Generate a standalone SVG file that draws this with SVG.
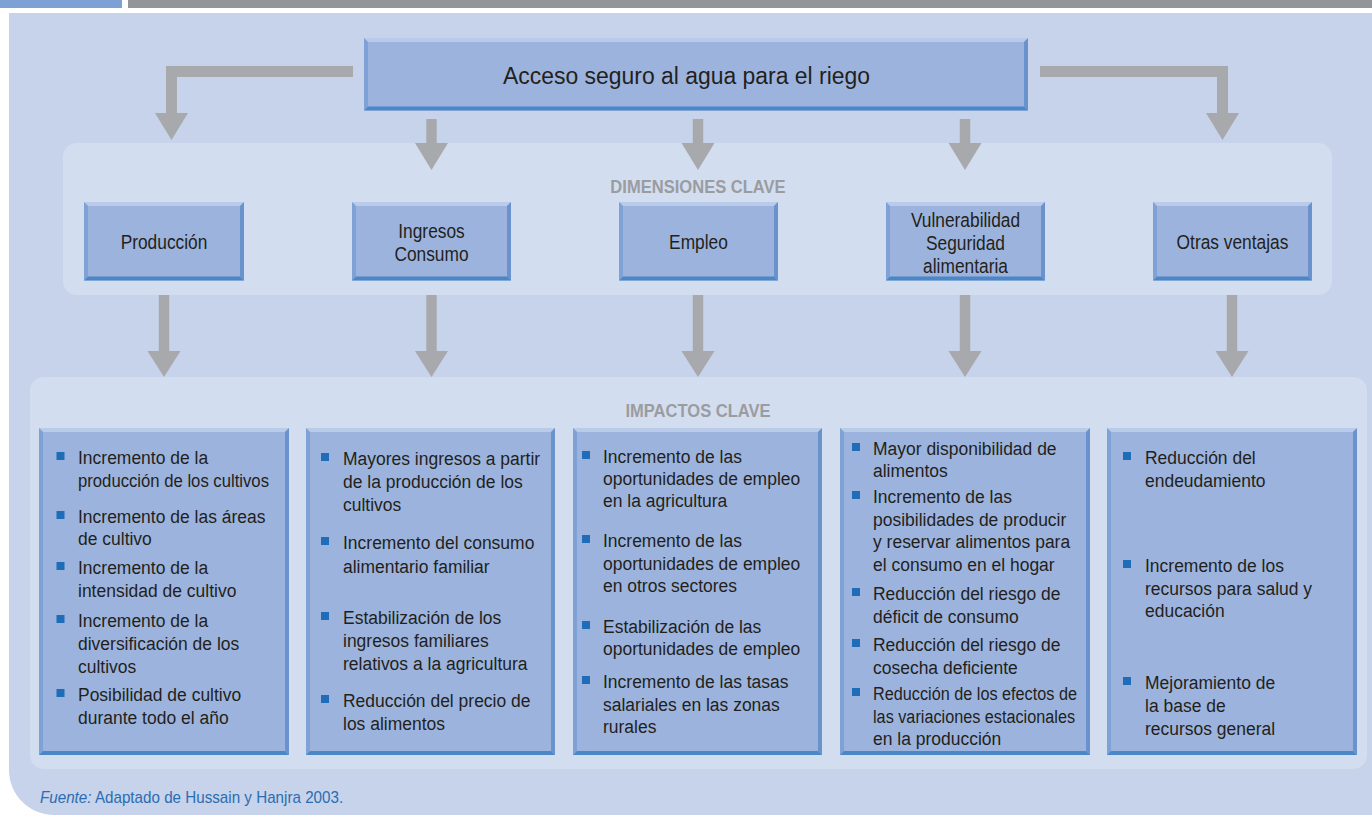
<svg xmlns="http://www.w3.org/2000/svg" width="1372" height="815" viewBox="0 0 1372 815">
<style>
.face{fill:#9cb4dd}
.bt{fill:#b9cbe9}
.bl{fill:#7ea1d6}
.br{fill:#6a93cd}
.bb{fill:#4b86c6}
.arw{fill:#a7a9ac}
.bul{fill:#1f6db6}
.t{font-family:"Liberation Sans",Arial,sans-serif;fill:#231f20}
.title{font-size:24.5px;text-anchor:middle}
.dim{font-size:19.5px;text-anchor:middle}
.imp{font-size:19px}
.lbl{font-family:"Liberation Sans",Arial,sans-serif;font-size:18px;font-weight:bold;fill:#9a9c9f;text-anchor:middle}
.src{font-family:"Liberation Sans",Arial,sans-serif;font-size:16px;fill:#2b6cb2}
</style>
<rect width="1372" height="815" fill="#ffffff"/>
<rect x="0" y="0" width="122" height="8" fill="#7da1d4"/>
<rect x="128" y="0" width="1244" height="8" fill="#939598"/>
<path d="M9,13 H1372 V815 H54 A45,45 0 0 1 9,770 Z" fill="#c6d3ea"/>
<rect id="dims-panel" x="63" y="143" width="1269" height="152" rx="14" fill="#d3ddf0"/>
<rect id="impacts-panel" x="30" y="377" width="1337" height="392" rx="14" fill="#d3ddf0"/>
<text class="lbl" transform="translate(698,193) scale(0.92,1)">DIMENSIONES CLAVE</text>
<text class="lbl" transform="translate(698,417) scale(0.92,1)">IMPACTOS CLAVE</text>

<g id="connectors">
<polygon class="arw" points="353,66 166,66 166,113 155,113 171.5,140 188,113 177,113 177,77 353,77"/>
<polygon class="arw" points="1040,66 1228,66 1228,113 1239,113 1222.5,140 1206,113 1217,113 1217,77 1040,77"/>
<polygon class="arw" points="426.3,119 436.7,119 436.7,143 448,143 431.5,170 415,143 426.3,143"/>
<polygon class="arw" points="692.8,119 703.2,119 703.2,143 714.5,143 698,170 681.5,143 692.8,143"/>
<polygon class="arw" points="959.8,119 970.2,119 970.2,143 981.5,143 965,170 948.5,143 959.8,143"/>
<polygon class="arw" points="158.8,295 169.2,295 169.2,351 180.5,351 164,377 147.5,351 158.8,351"/>
<polygon class="arw" points="426.3,295 436.7,295 436.7,351 448,351 431.5,377 415,351 426.3,351"/>
<polygon class="arw" points="692.8,295 703.2,295 703.2,351 714.5,351 698,377 681.5,351 692.8,351"/>
<polygon class="arw" points="959.8,295 970.2,295 970.2,351 981.5,351 965,377 948.5,351 959.8,351"/>
<polygon class="arw" points="1226.8,295 1237.2,295 1237.2,351 1248.5,351 1232,377 1215.5,351 1226.8,351"/>
</g>

<g id="title">
<rect class="face" x="364" y="38" width="664" height="72.5"/>
<polygon class="bt" points="364,38 1028,38 1024,42 368,42"/>
<polygon class="bl" points="364,38 368,42 368,106.5 364,110.5"/>
<polygon class="br" points="1028,38 1028,110.5 1024,106.5 1024,42"/>
<polygon class="bb" points="364,110.5 368,106.5 1024,106.5 1028,110.5"/>
<text class="t title" transform="translate(686.5,84) scale(0.936,1)">Acceso seguro al agua para el riego</text>
</g>

<g id="dim-produccion">
<rect class="face" x="84" y="202" width="160" height="78.5"/>
<polygon class="bt" points="84,202 244,202 240,206 88,206"/>
<polygon class="bl" points="84,202 88,206 88,276.5 84,280.5"/>
<polygon class="br" points="244,202 244,280.5 240,276.5 240,206"/>
<polygon class="bb" points="84,280.5 88,276.5 240,276.5 244,280.5"/>
<g transform="translate(164,0) scale(0.89,1)"><text class="t dim" x="0" y="249">Producción</text></g>
</g>
<g id="dim-ingresos">
<rect class="face" x="352" y="202" width="159" height="78.5"/>
<polygon class="bt" points="352,202 511,202 507,206 356,206"/>
<polygon class="bl" points="352,202 356,206 356,276.5 352,280.5"/>
<polygon class="br" points="511,202 511,280.5 507,276.5 507,206"/>
<polygon class="bb" points="352,280.5 356,276.5 507,276.5 511,280.5"/>
<g transform="translate(431.5,0) scale(0.89,1)"><text class="t dim" x="0" y="238">Ingresos</text><text class="t dim" x="0" y="261">Consumo</text></g>
</g>
<g id="dim-empleo">
<rect class="face" x="619" y="202" width="159" height="78.5"/>
<polygon class="bt" points="619,202 778,202 774,206 623,206"/>
<polygon class="bl" points="619,202 623,206 623,276.5 619,280.5"/>
<polygon class="br" points="778,202 778,280.5 774,276.5 774,206"/>
<polygon class="bb" points="619,280.5 623,276.5 774,276.5 778,280.5"/>
<g transform="translate(698.5,0) scale(0.89,1)"><text class="t dim" x="0" y="249">Empleo</text></g>
</g>
<g id="dim-vulnerabilidad">
<rect class="face" x="886" y="202" width="159" height="78.5"/>
<polygon class="bt" points="886,202 1045,202 1041,206 890,206"/>
<polygon class="bl" points="886,202 890,206 890,276.5 886,280.5"/>
<polygon class="br" points="1045,202 1045,280.5 1041,276.5 1041,206"/>
<polygon class="bb" points="886,280.5 890,276.5 1041,276.5 1045,280.5"/>
<g transform="translate(965.5,0) scale(0.89,1)"><text class="t dim" x="0" y="227">Vulnerabilidad</text><text class="t dim" x="0" y="250">Seguridad</text><text class="t dim" x="0" y="273">alimentaria</text></g>
</g>
<g id="dim-otras">
<rect class="face" x="1153" y="202" width="159" height="78.5"/>
<polygon class="bt" points="1153,202 1312,202 1308,206 1157,206"/>
<polygon class="bl" points="1153,202 1157,206 1157,276.5 1153,280.5"/>
<polygon class="br" points="1312,202 1312,280.5 1308,276.5 1308,206"/>
<polygon class="bb" points="1153,280.5 1157,276.5 1308,276.5 1312,280.5"/>
<g transform="translate(1232.5,0) scale(0.89,1)"><text class="t dim" x="0" y="249">Otras ventajas</text></g>
</g>

<g id="imp-produccion">
<rect class="face" x="39" y="428" width="250" height="327"/>
<polygon class="bt" points="39,428 289,428 285,432 43,432"/>
<polygon class="bl" points="39,428 43,432 43,751 39,755"/>
<polygon class="br" points="289,428 289,755 285,751 285,432"/>
<polygon class="bb" points="39,755 43,751 285,751 289,755"/>
<rect class="bul" x="56.5" y="452" width="8" height="8"/>
<rect class="bul" x="56.5" y="511" width="8" height="8"/>
<rect class="bul" x="56.5" y="562" width="8" height="8"/>
<rect class="bul" x="56.5" y="615" width="8" height="8"/>
<rect class="bul" x="56.5" y="689" width="8" height="8"/>
<g transform="translate(78,0) scale(0.92,1)">
<text class="t imp" x="0" y="464">Incremento de la</text>
<text class="t imp" x="0" y="487" textLength="207.6" lengthAdjust="spacingAndGlyphs">producción de los cultivos</text>
<text class="t imp" x="0" y="523">Incremento de las áreas</text>
<text class="t imp" x="0" y="545">de cultivo</text>
<text class="t imp" x="0" y="574">Incremento de la</text>
<text class="t imp" x="0" y="597">intensidad de cultivo</text>
<text class="t imp" x="0" y="627">Incremento de la</text>
<text class="t imp" x="0" y="650">diversificación de los</text>
<text class="t imp" x="0" y="673">cultivos</text>
<text class="t imp" x="0" y="701">Posibilidad de cultivo</text>
<text class="t imp" x="0" y="724">durante todo el año</text>
</g>
</g>

<g id="imp-ingresos">
<rect class="face" x="306" y="428" width="249" height="327"/>
<polygon class="bt" points="306,428 555,428 551,432 310,432"/>
<polygon class="bl" points="306,428 310,432 310,751 306,755"/>
<polygon class="br" points="555,428 555,755 551,751 551,432"/>
<polygon class="bb" points="306,755 310,751 551,751 555,755"/>
<rect class="bul" x="321" y="453" width="8" height="8"/>
<rect class="bul" x="321" y="537" width="8" height="8"/>
<rect class="bul" x="321" y="612" width="8" height="8"/>
<rect class="bul" x="321" y="695" width="8" height="8"/>
<g transform="translate(343,0) scale(0.92,1)">
<text class="t imp" x="0" y="465">Mayores ingresos a partir</text>
<text class="t imp" x="0" y="488">de la producción de los</text>
<text class="t imp" x="0" y="511">cultivos</text>
<text class="t imp" x="0" y="549">Incremento del consumo</text>
<text class="t imp" x="0" y="573">alimentario familiar</text>
<text class="t imp" x="0" y="624">Estabilización de los</text>
<text class="t imp" x="0" y="647">ingresos familiares</text>
<text class="t imp" x="0" y="670">relativos a la agricultura</text>
<text class="t imp" x="0" y="707">Reducción del precio de</text>
<text class="t imp" x="0" y="730">los alimentos</text>
</g>
</g>

<g id="imp-empleo">
<rect class="face" x="573" y="428" width="249" height="327"/>
<polygon class="bt" points="573,428 822,428 818,432 577,432"/>
<polygon class="bl" points="573,428 577,432 577,751 573,755"/>
<polygon class="br" points="822,428 822,755 818,751 818,432"/>
<polygon class="bb" points="573,755 577,751 818,751 822,755"/>
<rect class="bul" x="582" y="451" width="8" height="8"/>
<rect class="bul" x="582" y="535" width="8" height="8"/>
<rect class="bul" x="582" y="621" width="8" height="8"/>
<rect class="bul" x="582" y="676" width="8" height="8"/>
<g transform="translate(603,0) scale(0.92,1)">
<text class="t imp" x="0" y="463">Incremento de las</text>
<text class="t imp" x="0" y="485">oportunidades de empleo</text>
<text class="t imp" x="0" y="507">en la agricultura</text>
<text class="t imp" x="0" y="547">Incremento de las</text>
<text class="t imp" x="0" y="570">oportunidades de empleo</text>
<text class="t imp" x="0" y="592">en otros sectores</text>
<text class="t imp" x="0" y="633">Estabilización de las</text>
<text class="t imp" x="0" y="655">oportunidades de empleo</text>
<text class="t imp" x="0" y="688">Incremento de las tasas</text>
<text class="t imp" x="0" y="711">salariales en las zonas</text>
<text class="t imp" x="0" y="733">rurales</text>
</g>
</g>

<g id="imp-vulnerabilidad">
<rect class="face" x="840" y="428" width="250" height="327"/>
<polygon class="bt" points="840,428 1090,428 1086,432 844,432"/>
<polygon class="bl" points="840,428 844,432 844,751 840,755"/>
<polygon class="br" points="1090,428 1090,755 1086,751 1086,432"/>
<polygon class="bb" points="840,755 844,751 1086,751 1090,755"/>
<rect class="bul" x="852" y="443" width="8" height="8"/>
<rect class="bul" x="852" y="491" width="8" height="8"/>
<rect class="bul" x="852" y="588" width="8" height="8"/>
<rect class="bul" x="852" y="639" width="8" height="8"/>
<rect class="bul" x="852" y="688" width="8" height="8"/>
<g transform="translate(873,0) scale(0.92,1)">
<text class="t imp" x="0" y="455">Mayor disponibilidad de</text>
<text class="t imp" x="0" y="477">alimentos</text>
<text class="t imp" x="0" y="503">Incremento de las</text>
<text class="t imp" x="0" y="526">posibilidades de producir</text>
<text class="t imp" x="0" y="548">y reservar alimentos para</text>
<text class="t imp" x="0" y="571">el consumo en el hogar</text>
<text class="t imp" x="0" y="600">Reducción del riesgo de</text>
<text class="t imp" x="0" y="623">déficit de consumo</text>
<text class="t imp" x="0" y="651">Reducción del riesgo de</text>
<text class="t imp" x="0" y="674">cosecha deficiente</text>
<text class="t imp" x="0" y="700" textLength="221.7" lengthAdjust="spacingAndGlyphs">Reducción de los efectos de</text>
<text class="t imp" x="0" y="723" textLength="219.6" lengthAdjust="spacingAndGlyphs">las variaciones estacionales</text>
<text class="t imp" x="0" y="745">en la producción</text>
</g>
</g>

<g id="imp-otras">
<rect class="face" x="1107" y="428" width="250" height="327"/>
<polygon class="bt" points="1107,428 1357,428 1353,432 1111,432"/>
<polygon class="bl" points="1107,428 1111,432 1111,751 1107,755"/>
<polygon class="br" points="1357,428 1357,755 1353,751 1353,432"/>
<polygon class="bb" points="1107,755 1111,751 1353,751 1357,755"/>
<rect class="bul" x="1123" y="452" width="8" height="8"/>
<rect class="bul" x="1123" y="560" width="8" height="8"/>
<rect class="bul" x="1123" y="677" width="8" height="8"/>
<g transform="translate(1145,0) scale(0.92,1)">
<text class="t imp" x="0" y="464">Reducción del</text>
<text class="t imp" x="0" y="487">endeudamiento</text>
<text class="t imp" x="0" y="572">Incremento de los</text>
<text class="t imp" x="0" y="595">recursos para salud y</text>
<text class="t imp" x="0" y="617">educación</text>
<text class="t imp" x="0" y="689">Mejoramiento de</text>
<text class="t imp" x="0" y="712">la base de</text>
<text class="t imp" x="0" y="735">recursos general</text>
</g>
</g>

<text class="src" transform="translate(40,803) scale(0.95,1)"><tspan font-style="italic">Fuente:</tspan> Adaptado de Hussain y Hanjra 2003.</text>
</svg>
